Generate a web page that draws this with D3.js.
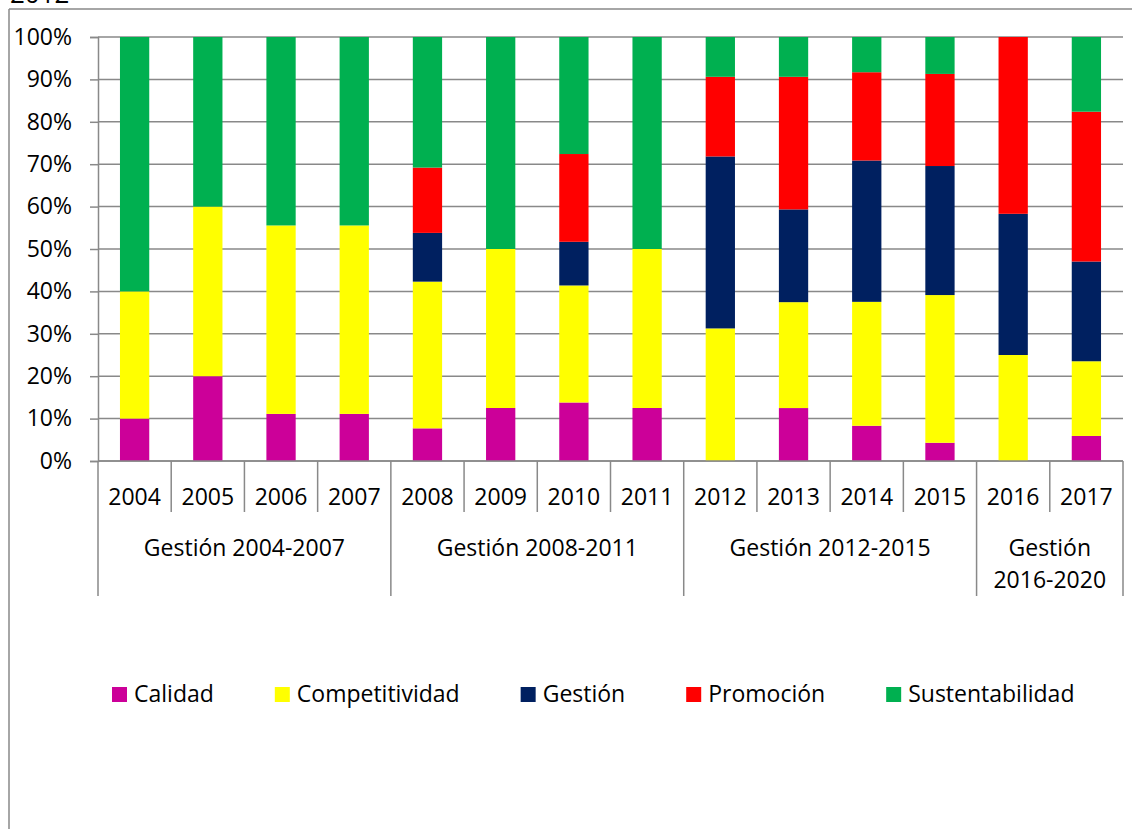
<!DOCTYPE html>
<html lang="es">
<head>
<meta charset="UTF-8">
<title>Ejes por año</title>
<script src="https://d3js.org/d3.v7.min.js"></script>
<style>
    body, html { margin: 0; background: #fff; }
    svg { display: block; }
    text { font-family: "Open Sans", "Noto Sans", sans-serif; font-size: 23px; fill: #000; }
    .grid line, .frame line, .cat line { stroke: #898989; stroke-width: 1.5px; }
</style>
</head>
<body>
<script>
    const years = ["2004", "2005", "2006", "2007", "2008", "2009", "2010", "2011",
                   "2012", "2013", "2014", "2015", "2016", "2017"];
    const groups = ["Gestión 2004-2007", "Gestión 2008-2011", "Gestión 2012-2015", "Gestión 2016-2020"];
    const groupSizes = [4, 4, 4, 2];
    const seriesNames = ["Calidad", "Competitividad", "Gestión", "Promoción", "Sustentabilidad"];
    const seriesColors = ["#cc0099", "#ffff00", "#002060", "#ff0000", "#00b050"];

    // shares per year (%)
    const calidad         = [10, 20, 11.1, 11.1, 7.7, 12.5, 13.8, 12.5, 0, 12.5, 8.3, 4.3, 0, 5.9];
    const competitividad  = [30, 40, 44.4, 44.4, 34.6, 37.5, 27.6, 37.5, 31.3, 25, 29.2, 34.8, 25, 17.6];
    const gestion         = [0, 0, 0, 0, 11.5, 0, 10.3, 0, 40.6, 21.9, 33.3, 30.4, 33.3, 23.5];
    const promocion       = [0, 0, 0, 0, 15.4, 0, 20.7, 0, 18.8, 31.3, 20.8, 21.7, 41.7, 35.3];
    const sustentabilidad = [60, 40, 44.4, 44.4, 30.8, 50, 27.6, 50, 9.4, 9.4, 8.3, 8.7, 0, 17.6];

    const values = [calidad, competitividad, gestion, promocion, sustentabilidad];
    const rows = years.map((y, i) => {
        const r = { year: y };
        seriesNames.forEach((s, k) => r[s] = values[k][i]);
        return r;
    });

    const width = 1132, height = 829;
    const plot = { left: 98, right: 1123, top: 37, bottom: 461 };

    const svg = d3.select("body").append("svg")
        .attr("width", width)
        .attr("height", height);

    // cut-off title at the very top
    svg.append("text")
        .attr("x", 10)
        .attr("y", 3)
        .style("font-size", "26px")
        .text("2012");

    // chart frame
    const frame = svg.append("g").attr("class", "frame");
    frame.append("line").attr("x1", 9).attr("x2", width).attr("y1", 9).attr("y2", 9);
    frame.append("line").attr("x1", 9).attr("x2", 9).attr("y1", 9).attr("y2", height);

    const x = d3.scaleBand()
        .domain(years)
        .range([plot.left, plot.right])
        .paddingInner(0.6)
        .paddingOuter(0.3);

    const y = d3.scaleLinear()
        .domain([0, 1])
        .range([plot.bottom, plot.top]);

    // gridlines + y labels
    const yAxis = d3.axisLeft(y)
        .tickValues(d3.range(0, 11).map(d => d / 10))
        .tickFormat(d3.format(".0%"))
        .tickSize(8)
        .tickPadding(18);

    const gy = svg.append("g")
        .attr("transform", `translate(${plot.left},0)`)
        .call(yAxis);
    gy.select(".domain").attr("stroke", "#898989").attr("stroke-width", 1.5);
    gy.selectAll(".tick line").attr("stroke", "#898989").attr("stroke-width", 1.5);
    gy.selectAll(".tick text").attr("font-size", null).attr("font-family", null);

    const grid = svg.append("g").attr("class", "grid");
    grid.selectAll("line")
        .data(y.ticks(10))
        .join("line")
        .attr("x1", plot.left)
        .attr("x2", plot.right)
        .attr("y1", d => y(d))
        .attr("y2", d => y(d));

    // stacked bars
    const stack = d3.stack()
        .keys(seriesNames)
        .offset(d3.stackOffsetExpand);
    const layers = stack(rows);

    svg.append("g")
        .selectAll("g")
        .data(layers)
        .join("g")
        .attr("fill", (d, i) => seriesColors[i])
        .selectAll("rect")
        .data(d => d)
        .join("rect")
        .attr("x", d => x(d.data.year))
        .attr("width", x.bandwidth())
        .attr("y", d => y(d[1]))
        .attr("height", d => y(d[0]) - y(d[1]));

    // multi-level category axis
    const step = x.step();
    const edge = i => plot.left + i * step;
    const cat = svg.append("g").attr("class", "cat");

    cat.append("line")
        .attr("x1", plot.left).attr("x2", plot.right)
        .attr("y1", plot.bottom).attr("y2", plot.bottom);

    const groupEdges = [0];
    groupSizes.forEach(n => groupEdges.push(groupEdges[groupEdges.length - 1] + n));

    cat.selectAll("line.yr")
        .data(d3.range(0, years.length + 1).filter(i => !groupEdges.includes(i)))
        .join("line")
        .attr("class", "yr")
        .attr("x1", edge).attr("x2", edge)
        .attr("y1", plot.bottom).attr("y2", 512);

    cat.selectAll("line.grp")
        .data(groupEdges)
        .join("line")
        .attr("class", "grp")
        .attr("x1", edge).attr("x2", edge)
        .attr("y1", plot.bottom).attr("y2", 596);

    cat.selectAll("text.yr")
        .data(years)
        .join("text")
        .attr("class", "yr")
        .attr("x", d => x(d) + x.bandwidth() / 2)
        .attr("y", 497)
        .attr("dy", "0.36em")
        .attr("text-anchor", "middle")
        .text(d => d);

    groups.forEach((g, i) => {
        const x0 = edge(groupEdges[i]), x1 = edge(groupEdges[i + 1]);
        const t = cat.append("text")
            .attr("x", (x0 + x1) / 2)
            .attr("y", 548)
            .attr("dy", "0.36em")
            .attr("text-anchor", "middle")
            .text(g);
        if (t.node().getComputedTextLength() > x1 - x0 - 10) {
            const words = g.split(" ");
            t.text(null);
            words.forEach((w, k) => {
                t.append("tspan")
                    .attr("x", (x0 + x1) / 2)
                    .attr("y", 548 + k * 32)
                    .attr("dy", "0.36em")
                    .text(w);
            });
        }
    });

    // legend
    const legend = svg.append("g").attr("transform", "translate(112, 694)");
    let lx = 0;
    seriesNames.forEach((s, i) => {
        const item = legend.append("g").attr("transform", `translate(${lx},0)`);
        item.append("rect")
            .attr("x", 0).attr("y", -7)
            .attr("width", 15).attr("height", 15)
            .attr("fill", seriesColors[i]);
        const t = item.append("text")
            .attr("x", 22)
            .attr("y", 0)
            .attr("dy", "0.36em")
            .text(s);
        lx += 22 + t.node().getComputedTextLength() + 61;
    });
</script>
</body>
</html>
